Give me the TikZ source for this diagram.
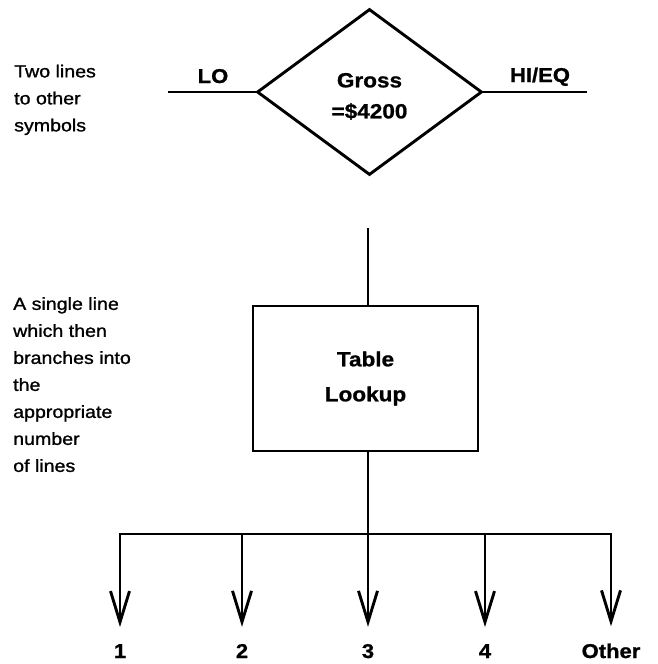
\documentclass[tikz,border=0pt]{standalone}
\usepackage{fontspec}
\usetikzlibrary{shapes.geometric,arrows.meta}
\newfontfamily\notefont{Liberation Sans}[FakeStretch=1.12,FakeBold=1.2]
\newfontfamily\labfont{Liberation Sans Bold}[FakeStretch=1.1,FakeBold=1]
\begin{document}
\begin{tikzpicture}[x=1pt,y=-1pt,
  line/.style={line width=2.9pt},
  arr/.style={line, -{Straight Barb[length=31pt,width=19pt]}},
  note/.style={font=\notefont\fontsize{17.5}{27}\selectfont, align=left,
    anchor=north west, inner sep=0pt},
  tag/.style={font=\labfont\fontsize{20}{24}\selectfont, inner sep=0pt, anchor=base},
  decision/.style={diamond, draw, line width=2.9pt, minimum width=225pt,
    minimum height=166pt, inner sep=0pt,
    font=\labfont\fontsize{20.5}{31}\selectfont},
  process/.style={rectangle, draw, line width=2.9pt, minimum width=225pt,
    minimum height=145pt, inner sep=0pt, align=center,
    font=\labfont\fontsize{20.5}{35}\selectfont}]
\useasboundingbox (0,0) rectangle (657,664);

% decision symbol with its two exits (a taller first row sets the text a little low)
\node[decision] (gross) at (369.5,92)
  {\begin{tabular}{@{}c@{}}\rule{0pt}{31pt}Gross\\=\$4200\end{tabular}};
\node[tag] (lo) at (213,83) {LO};
\node[tag] (hieq) at (540,82) {HI/EQ};
\coordinate (loend) at (168,92);
\coordinate (hiend) at (587,92);
\draw[line] (gross.west) -- (loend);
\draw[line] (gross.east) -- (hiend);

% side notes
\node[note] (n1) at (14,64.5) {Two lines\\to other\\symbols};
\node[note] (n2) at (13,297) {A single line\\which then\\branches into\\the\\appropriate\\number\\of lines};

% table lookup with branching outputs
\node[process] (table) at (365.5,378.5) {Table\\Lookup};
\coordinate (intop) at (368,228);
\draw[line] (intop) -- (intop |- table.north);

\node[tag] (l1) at (120,658) {1};
\node[tag] (l2) at (242,658) {2};
\node[tag] (l3) at (368,658) {3};
\node[tag] (l4) at (485,658) {4};
\node[tag] (l5) at (611,658) {Other};

\coordinate (bus) at (368,534);
\coordinate (b2) at (242,534);
\coordinate (b4) at (485,534);
\draw[arr, shorten >=17pt] (intop |- table.south) -- (l3.north);
\draw[arr, shorten >=17pt] (bus) -| (l1.north);
\draw[arr, shorten >=17pt] (bus) -| (l5.north);
\draw[arr, shorten >=17pt] (b2) -- (b2 |- l2.north);
\draw[arr, shorten >=17pt] (b4) -- (b4 |- l4.north);
\end{tikzpicture}
\end{document}
